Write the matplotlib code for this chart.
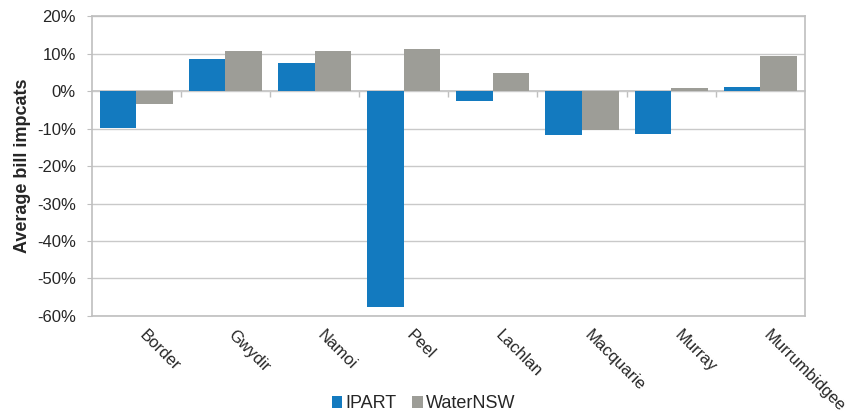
"""
Average bill impacts by valley: IPART vs WaterNSW, grouped bars.
"""

import matplotlib.pyplot as plt
import numpy as np
from matplotlib.ticker import FuncFormatter

################## Data ###################

valleys = [
    "Border",
    "Gwydir",
    "Namoi",
    "Peel",
    "Lachlan",
    "Macquarie",
    "Murray",
    "Murrumbidgee",
]
ipart = [-9.9, 8.6, 7.6, -57.6, -2.6, -11.6, -11.5, 1.2]
waternsw = [-3.5, 10.7, 10.8, 11.3, 4.7, -10.3, 0.8, 9.3]

################## Style ###################

ipart_blu = "#137ABF"
wnsw_gry = "#9D9D97"
frame_gry = "#BFBFBF"
grid_gry = "#C9C9C9"
txt_blk = "#262626"

plt.rcParams.update(
    {
        "font.family": ["Liberation Sans", "DejaVu Sans"],
        "text.color": txt_blk,
        "axes.labelcolor": txt_blk,
        "xtick.color": txt_blk,
        "ytick.color": txt_blk,
    }
)

fig = plt.figure(figsize=(8.47, 4.16), dpi=100)
ax = fig.add_axes([0.1083, 0.2404, 0.842, 0.7211])

x = np.arange(len(valleys))
width = 0.41

ax.bar(x - width / 2, ipart, width, color=ipart_blu, label="IPART", zorder=3)
ax.bar(x + width / 2, waternsw, width, color=wnsw_gry, label="WaterNSW", zorder=3)

# Horizontal grid
ax.set_ylim(-60, 20)
ax.set_yticks(np.arange(-60, 21, 10))
ax.yaxis.set_major_formatter(FuncFormatter(lambda v, p: f"{v:.0f}%"))
ax.grid(axis="y", color=grid_gry, linewidth=1.0, zorder=0)

ax.set_xlim(-0.5, len(valleys) - 0.5)

# Frame
for spine in ax.spines.values():
    spine.set_color(frame_gry)
    spine.set_linewidth(1.2)

ax.tick_params(axis="y", length=3.5, color=frame_gry, labelsize=12, pad=8)

# Category labels below the plot area, slanted (start at the category centre)
ax.set_xticks(x)
ax.set_xticklabels(
    valleys, rotation=-45, ha="left", va="bottom", rotation_mode="anchor"
)
ax.tick_params(axis="x", length=0, labelsize=12, pad=16)

# Zero axis line with tick marks at the category boundaries
zero_ax = ax.secondary_xaxis(0.75)
zero_ax.set_xticks(np.arange(0.5, len(valleys) - 0.5, 1.0))
zero_ax.xaxis.set_ticks_position("bottom")
zero_ax.tick_params(
    length=4, color=frame_gry, width=1.0, labelbottom=False, labeltop=False
)
for spine in zero_ax.spines.values():
    spine.set_color(frame_gry)
    spine.set_linewidth(1.2)

ax.set_ylabel("Average bill impcats", fontsize=13, fontweight="bold")
ax.yaxis.set_label_coords(-0.085, 0.5)

fig.legend(
    loc="lower center",
    bbox_to_anchor=(0.5, -0.03),
    ncol=2,
    frameon=False,
    fontsize=13,
    handlelength=0.6,
    handleheight=0.6,
    handletextpad=0.15,
    columnspacing=0.9,
)

fig.savefig("out.png", dpi=100)
